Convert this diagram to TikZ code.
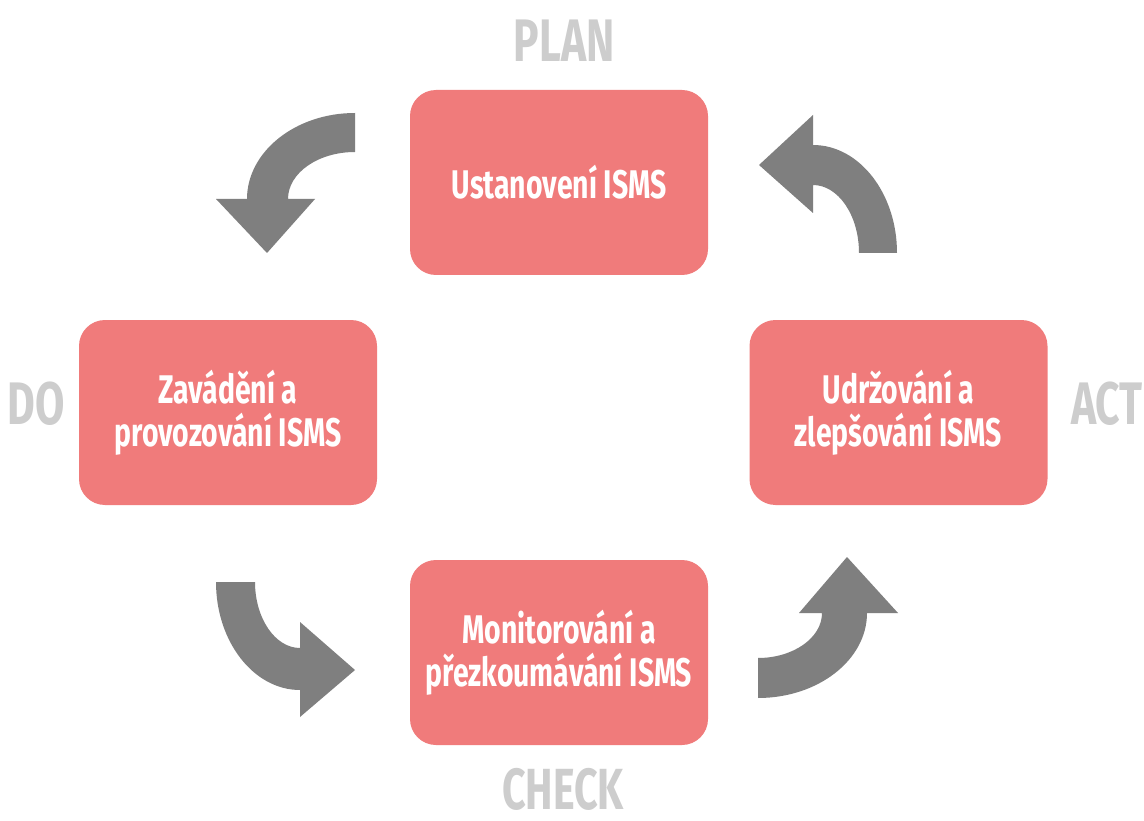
\documentclass[tikz,border=0pt]{standalone}
\usepackage{fontspec}
\setmainfont[FakeStretch=0.71]{Fira Sans}
\definecolor{boxred}{HTML}{F07B7B}
\definecolor{arrowgray}{HTML}{7F7F7F}
\definecolor{labelgray}{HTML}{CDCDCD}
\tikzset{
  stage/.style={draw=none, fill=boxred, rounded corners=26pt, minimum width=298pt, minimum height=185pt,
    text=white, align=center, font=\bfseries\fontsize{40}{43}\selectfont, inner sep=0pt},
  phase/.style={text=labelgray, font=\bfseries\fontsize{60}{60}\selectfont, inner sep=0pt, anchor=base},
  cyclearrow/.style={fill=arrowgray, draw=none}
}
\begin{document}
\begin{tikzpicture}[x=1pt,y=-1pt]
\useasboundingbox (0,0) rectangle (1144,821);
\fill[white] (0,0) rectangle (1144,821);
% stages
\node[stage] (plan) at (559,182.5) {Ustanovení ISMS};
\node[stage] (do) at (228,412.5) {Zavádění a\\provozování ISMS};
\node[stage] (act) at (898.5,412.5) {Udržování a\\zlepšování ISMS};
\node[stage] (check) at (559,652.5) {Monitorování a\\přezkoumávání ISMS};
% phase labels
\node[phase] (lplan) at (564,62) {PLAN};
\node[phase] (ldo) at (36,424) {DO};
\node[phase] (lact) at (1107,424) {ACT};
\node[phase, font=\bfseries\fontsize{58}{58}\selectfont] (lcheck) at (563,809) {CHECK};
% arrows
\fill[cyclearrow] (355,113) .. controls (295,113) and (247,152) .. (247,199)
  -- (216,199) -- (267,253) -- (315,199) -- (288,199)
  .. controls (288,173) and (318,152) .. (355,152) -- cycle;
\fill[cyclearrow] (897,253) .. controls (897,193) and (859,145) .. (813,145)
  -- (813,115) -- (759,165) -- (813,213) -- (813,185)
  .. controls (838,185) and (859,215) .. (859,253) -- cycle;
\fill[cyclearrow] (216,582) .. controls (216,642) and (254,690) .. (300,690)
  -- (300,717) -- (355,670) -- (300,622) -- (300,648)
  .. controls (275,648) and (255,618) .. (255,582) -- cycle;
\fill[cyclearrow] (758,698) .. controls (818,698) and (867,660) .. (867,613)
  -- (898,613) -- (847,557) -- (799,613) -- (822,613)
  .. controls (822,638) and (793,658) .. (758,658) -- cycle;
\end{tikzpicture}
\end{document}
